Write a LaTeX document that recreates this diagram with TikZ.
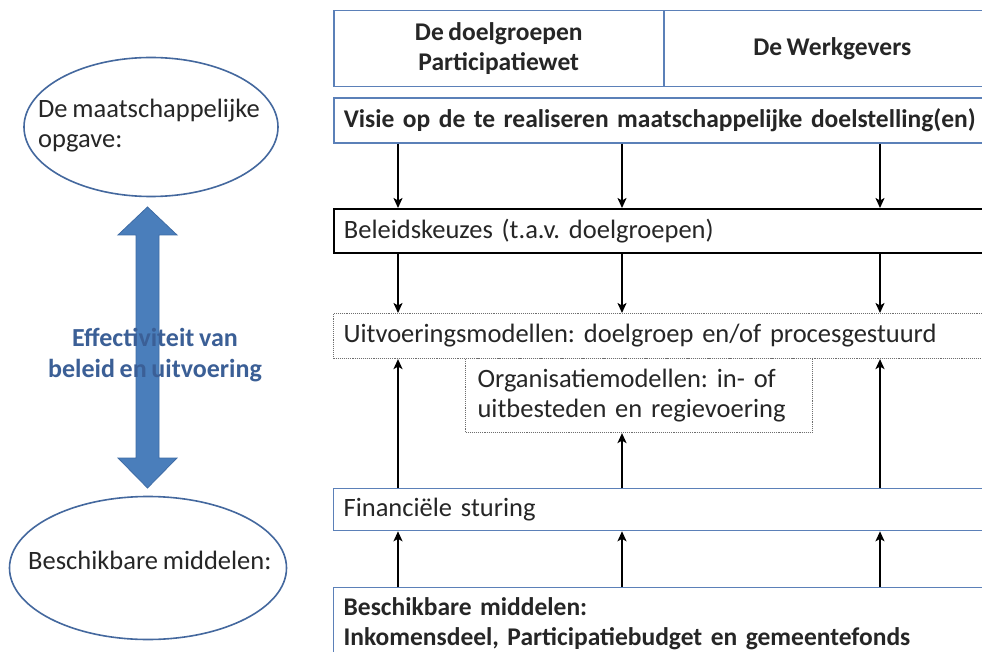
\documentclass[tikz,border=0pt]{standalone}
\usepackage{fontspec}
\setmainfont[WordSpace=0.8]{Carlito}
\usetikzlibrary{arrows.meta,shapes.geometric}
\frenchspacing

\definecolor{frameblue}{HTML}{5B80B8}
\definecolor{ovalblue}{HTML}{44689E}
\definecolor{arrowfill}{HTML}{4A7EBB}
\definecolor{arrowedge}{HTML}{3E6CA5}
\definecolor{labelblue}{HTML}{3B5F96}
\definecolor{textgray}{HTML}{262626}
\definecolor{dotgray}{HTML}{6E6E6E}

\tikzset{
  txt/.style={font=\fontsize{26.5}{30}\selectfont, text=textgray},
  boldtxt/.style={font=\fontsize{25.5}{30}\selectfont\bfseries, text=textgray},
  bandbox/.style={draw, anchor=north west, minimum width=667, inner xsep=10,
    text width=647, align=left, txt},
  bluebox/.style={bandbox, draw=frameblue, line width=1.6pt},
  blackbox/.style={bandbox, draw=black, line width=1.8pt},
  dotbox/.style={bandbox, draw=dotgray, densely dotted, line width=1.1pt},
  headbox/.style={draw=frameblue, line width=1.5pt, anchor=north west,
    minimum height=76, align=center, boldtxt},
  oval/.style={ellipse, draw=ovalblue, line width=1.6pt, inner sep=0pt},
  flow/.style={draw=black, line width=1.8pt, -{Stealth[length=10pt,width=9pt,inset=2.5pt]}}
}

\begin{document}
\begin{tikzpicture}[x=1pt,y=-1pt]
\useasboundingbox (0,0) rectangle (982,652);
\fill[white] (0,0) rectangle (982,652);

% column positions of the vertical connectors
\coordinate (colA) at (398,0);
\coordinate (colB) at (622,0);
\coordinate (colC) at (880,0);

% header row
\node[headbox, minimum width=330] (hdrL) at (333,10) {De doelgroepen\\Participatiewet};
\node[headbox, minimum width=337] (hdrR) at (663,10) {De Werkgevers};

% stacked bands
\node[bluebox, minimum height=45, boldtxt] (visie) at (333,97)
  {Visie op de te realiseren maatschappelijke doelstelling(en)};
\node[blackbox, minimum height=44] (beleid) at (333,208)
  {Beleidskeuzes (t.a.v. doelgroepen)};
\node[dotbox, minimum height=45] (uitv) at (333,313)
  {Uitvoeringsmodellen: doelgroep en/of procesgestuurd};
\node[draw=dotgray, densely dotted, line width=1.1pt, anchor=north west,
  minimum width=347, minimum height=74, inner xsep=12, text width=323, align=left, txt] (org) at (465,358)
  {Organisatiemodellen: in- of\\uitbesteden en regievoering};
\node[bluebox, line width=1.3pt, minimum height=42] (fin) at (333,488)
  {Financiële sturing};
\node[bluebox, line width=1.3pt, minimum height=72, boldtxt] (midd) at (333,587)
  {Beschikbare middelen:\\Inkomensdeel, Participatiebudget en gemeentefonds};

% downward connectors
\foreach \c in {colA,colB,colC}{
  \draw[flow] (visie.south -| \c) -- (beleid.north -| \c);
  \draw[flow] (beleid.south -| \c) -- (uitv.north -| \c);
  \draw[flow] (midd.north -| \c) -- (fin.south -| \c);
}
% upward connectors
\draw[flow] (fin.north -| colA) -- (uitv.south -| colA);
\draw[flow] (fin.north -| colC) -- (uitv.south -| colC);
\draw[flow] (fin.north -| colB) -- (org.south -| colB);

% left column: ovals
\node[oval, minimum width=254, minimum height=139] (opgave) at (151,127) {};
\node[txt, anchor=west, align=left, inner sep=0pt] (opgavetxt) at (38,126)
  {De maatschappelijke\\opgave:};
\node[oval, minimum width=277, minimum height=143] (middelen) at (148,568) {};
\node[txt, anchor=west, inner sep=0pt] (middelentxt) at (28,560)
  {Beschikbare middelen:};

% double arrow between the ovals
\filldraw[fill=arrowfill, draw=arrowedge, line width=0.8pt]
  (147.5,207) -- (177,235) -- (159,235) -- (159,458) -- (177,458)
  -- (147.5,488) -- (118,458) -- (136,458) -- (136,235) -- (118,235) -- cycle;
\node[align=center, text=labelblue, font=\fontsize{26}{31}\selectfont\bfseries] (effect) at (155,355)
  {Effectiviteit van\\beleid en uitvoering};
\end{tikzpicture}
\end{document}
